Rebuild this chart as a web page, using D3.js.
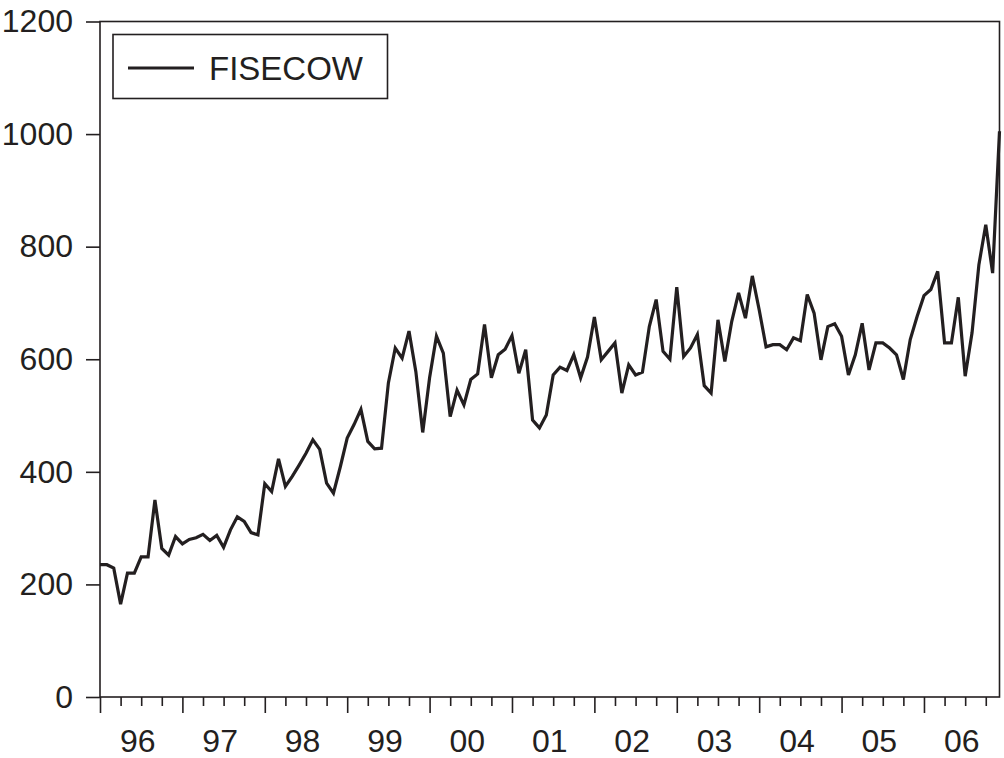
<!DOCTYPE html>
<html>
<head>
<meta charset="utf-8">
<script src="https://cdn.jsdelivr.net/npm/d3@7"></script>
<style>
  html, body { margin: 0; padding: 0; background: #fff; }
  svg { display: block; }
  text { font-family: "Liberation Sans", Arial, Helvetica, sans-serif; fill: #231f20; }
</style>
</head>
<body>
<svg id="chart" width="1004" height="758"></svg>
<script>
// Monthly series, Jan 1996 .. Dec 2006
const seriesName = "FISECOW";
const startYear = 1996;
const values = [
  235, 235, 229, 165, 220, 220, 249, 249, 350, 264, 252, 285,   // 1996
  272, 280, 283, 289, 278, 287, 266, 297, 320, 312, 292, 288,   // 1997
  379, 365, 423, 374, 392, 412, 433, 457, 440, 380, 362, 409,   // 1998
  460, 484, 511, 454, 441, 442, 558, 620, 602, 650, 578, 470,   // 1999
  567, 641, 611, 498, 545, 519, 564, 574, 662, 567, 608, 618,   // 2000
  642, 575, 617, 492, 478, 501, 572, 586, 580, 608, 567, 604,   // 2001
  675, 599, 614, 629, 540, 590, 572, 577, 658, 706, 614, 600,   // 2002
  728, 605, 620, 644, 553, 540, 670, 596, 667, 718, 673, 748,   // 2003
  688, 622, 626, 626, 617, 638, 633, 715, 682, 599, 658, 663,   // 2004
  641, 572, 608, 664, 581, 629, 629, 620, 608, 564, 635, 676,   // 2005
  713, 724, 756, 629, 629, 710, 570, 647, 768, 839, 753, 1005   // 2006
];
const yTickValues = [0, 200, 400, 600, 800, 1000, 1200];
const yearLabels = ["96","97","98","99","00","01","02","03","04","05","06"];

const svg = d3.select("#chart");
const mLeft = 100, mRight = 999.5, mTop = 21.5, mBottom = 697;
const ink = "#231f20";

const x = d3.scaleLinear().domain([0, values.length - 1]).range([mLeft, mRight]);
const y = d3.scaleLinear().domain([0, 1200]).range([mBottom, mTop]);

// frame
svg.append("rect")
  .attr("x", mLeft).attr("y", mTop)
  .attr("width", mRight - mLeft).attr("height", mBottom - mTop)
  .attr("fill", "none").attr("stroke", ink).attr("stroke-width", 1.6);

// y axis
const yAxis = d3.axisLeft(y).tickValues(yTickValues).tickSize(14).tickPadding(13)
  .tickFormat(d3.format("d"));
const gy = svg.append("g").attr("transform", `translate(${mLeft},0)`).call(yAxis);
gy.select(".domain").remove();
gy.selectAll(".tick line").attr("stroke", ink).attr("stroke-width", 1.6);
gy.selectAll(".tick text").attr("font-size", 32).attr("fill", ink)
  .style("font-family", "'Liberation Sans', Arial, sans-serif");

// x axis: major ticks at each year, minor ticks each quarter
const nYears = yearLabels.length;
const majorTicks = d3.range(0, nYears).map(i => i * 12);
const minorTicks = d3.range(0, nYears * 12, 3).filter(m => m % 12 !== 0 && m <= values.length - 1);

const gxMinor = svg.append("g").attr("transform", `translate(0,${mBottom})`)
  .call(d3.axisBottom(x).tickValues(minorTicks).tickSize(9).tickFormat(""));
gxMinor.select(".domain").remove();
gxMinor.selectAll(".tick line").attr("stroke", ink).attr("stroke-width", 1.6);

const gxMajor = svg.append("g").attr("transform", `translate(0,${mBottom})`)
  .call(d3.axisBottom(x).tickValues(majorTicks).tickSize(16).tickFormat(""));
gxMajor.select(".domain").remove();
gxMajor.selectAll(".tick line").attr("stroke", ink).attr("stroke-width", 1.6);

// year labels centred in each year interval
svg.append("g").selectAll("text")
  .data(yearLabels)
  .join("text")
  .attr("x", (d, i) => x(i * 12 + 5.5))
  .attr("y", 751.5)
  .attr("text-anchor", "middle")
  .attr("font-size", 32)
  .text(d => d);

// data line
const line = d3.line().x((d, i) => x(i)).y(d => y(d)).curve(d3.curveLinear);
svg.append("path")
  .datum(values)
  .attr("d", line)
  .attr("fill", "none")
  .attr("stroke", ink)
  .attr("stroke-width", 3.2)
  .attr("stroke-linejoin", "miter")
  .attr("stroke-miterlimit", 4);

// legend
const lg = svg.append("g");
lg.append("rect").attr("x", 113).attr("y", 34.5).attr("width", 274.5).attr("height", 64)
  .attr("fill", "#fff").attr("stroke", ink).attr("stroke-width", 1.6);
lg.append("line").attr("x1", 128).attr("x2", 194).attr("y1", 68).attr("y2", 68)
  .attr("stroke", ink).attr("stroke-width", 3);
lg.append("text").attr("x", 209).attr("y", 80).attr("font-size", 33).text(seriesName);
</script>
</body>
</html>
